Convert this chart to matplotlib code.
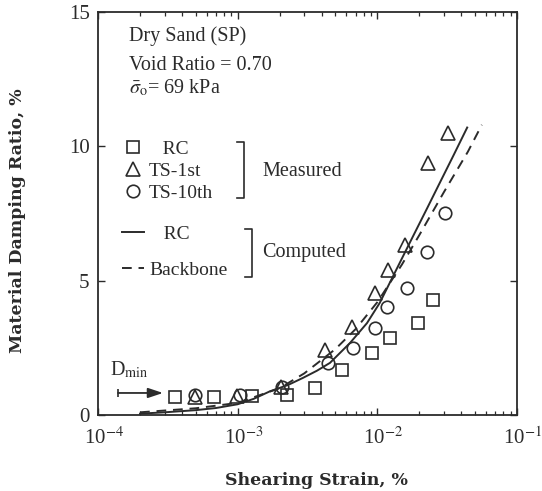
import numpy as np
import matplotlib
matplotlib.use('Agg')
import matplotlib.pyplot as plt
from matplotlib.lines import Line2D
from matplotlib.ticker import LogLocator, NullFormatter, FixedLocator
import matplotlib.transforms as mtransforms

# ---------------- data ----------------
rc_strain = [3.56e-4, 6.8e-4, 1.26e-3, 2.25e-3, 3.57e-3, 5.58e-3, 9.15e-3, 1.23e-2, 1.95e-2, 2.50e-2]
rc_damping = [0.67, 0.67, 0.71, 0.74, 1.0, 1.67, 2.31, 2.87, 3.42, 4.28]

ts1_strain = [4.94e-4, 9.9e-4, 2.05e-3, 4.22e-3, 6.58e-3, 9.6e-3, 1.19e-2, 1.58e-2, 2.30e-2, 3.20e-2]
ts1_damping = [0.67, 0.71, 1.05, 2.42, 3.27, 4.54, 5.40, 6.33, 9.38, 10.49]

ts10_strain = [4.94e-4, 1.04e-3, 2.08e-3, 4.43e-3, 6.69e-3, 9.6e-3, 1.17e-2, 1.63e-2, 2.26e-2, 3.05e-2]
ts10_damping = [0.74, 0.74, 1.04, 1.94, 2.49, 3.24, 4.02, 4.73, 6.07, 7.52]

rc_fit_strain = [2e-4, 3e-4, 5e-4, 7e-4, 1e-3, 1.3e-3, 1.7e-3, 2.3e-3, 2.93e-3, 3.7e-3, 4.58e-3,
                 6.37e-3, 8.43e-3, 1.04e-2, 1.38e-2, 1.8e-2, 2.27e-2, 2.72e-2, 3.5e-2, 4.4e-2]
rc_fit_damping = [0.05, 0.1, 0.18, 0.26, 0.4, 0.6, 0.88, 1.12, 1.38, 1.65, 1.94,
                  2.68, 3.42, 4.17, 5.45, 6.65, 7.69, 8.51, 9.65, 10.7]

bb_strain = [2e-4, 5e-4, 1e-3, 2e-3, 3e-3, 5e-3, 7e-3, 1e-2, 1.5e-2, 2e-2, 3e-2, 4.45e-2, 5.6e-2]
bb_damping = [0.1, 0.25, 0.45, 1.0, 1.55, 2.45, 3.2, 4.2, 5.6, 6.7, 8.3, 9.8, 10.8]

dmin_level = 0.82
dmin_arrow_from = 1.39e-4
dmin_arrow_to = 2.92e-4

xtick_vals = [1e-4, 1e-3, 1e-2, 1e-1]
xtick_labels = ['10$^{-4}$', '10$^{-3}$', '10$^{-2}$', '10$^{-1}$']
ytick_vals = [0, 5, 10, 15]
ytick_labels = ['0', '5', '10', '15']

header_lines = ['Dry Sand (SP)', 'Void Ratio = 0.70', r'$\bar{\sigma}_{\mathrm{o}}$= 69 kPa']
measured_labels = ['   RC', 'TS-1st', 'TS-10th']
computed_labels = ['   RC', 'Backbone']

# ---------------- style ----------------
plt.rcParams['font.family'] = ['Liberation Serif', 'DejaVu Serif']
plt.rcParams['mathtext.fontset'] = 'stix'
INK = '#2b2b2b'
W, H = 542, 491

fig = plt.figure(figsize=(W / 100, H / 100), dpi=100)
fig.patch.set_facecolor('white')

def fx(px):
    return px / W

def fy(py):
    return 1 - py / H

ax = fig.add_axes([fx(98), fy(415), fx(517) - fx(98), fy(12) - fy(415)])

ax.set_xscale('log')
ax.set_xlim(1e-4, 1e-1)
ax.set_ylim(0, 15)

ms = 9
DASH = (0, (5, 3.5))
ax.plot(rc_strain, rc_damping, ls='none', marker='s', mfc='none', mec=INK, ms=ms, mew=1.2)
ax.plot(ts1_strain, ts1_damping, ls='none', marker='^', mfc='none', mec=INK, ms=ms + 0.5, mew=1.2)
ax.plot(ts10_strain, ts10_damping, ls='none', marker='o', mfc='none', mec=INK, ms=ms, mew=1.2)
ax.plot(rc_fit_strain, rc_fit_damping, color=INK, lw=1.4)
ax.plot(bb_strain, bb_damping, color=INK, lw=1.4, ls=DASH)

# Dmin arrow
ax.annotate('', xy=(dmin_arrow_to, dmin_level), xytext=(dmin_arrow_from, dmin_level),
            arrowprops=dict(arrowstyle='-|>,head_length=0.9,head_width=0.3', color=INK, lw=1.3,
                            shrinkA=0, shrinkB=0))
ax.plot([dmin_arrow_from], [dmin_level], marker='|', color=INK, ms=6, mew=1.2)
ax.text(dmin_arrow_from * 0.88, dmin_level + 0.65, r'D$_{\mathrm{min}}$', fontsize=14.5, color=INK,
        ha='left', va='baseline')

# ticks
ax.xaxis.set_major_locator(FixedLocator(xtick_vals))
ax.set_xticklabels(xtick_labels)
ax.xaxis.set_minor_locator(LogLocator(base=10, subs=np.arange(2, 10)))
ax.xaxis.set_minor_formatter(NullFormatter())
ax.set_yticks(ytick_vals)
ax.set_yticklabels(ytick_labels)
ax.tick_params(which='major', direction='in', length=5, width=1.0, top=True, right=True,
               colors=INK, labelsize=15, pad=9)
ax.tick_params(which='minor', direction='in', length=3, width=0.9, top=True, right=True, colors=INK)
ax.tick_params(axis='y', which='major', pad=6)
off = mtransforms.ScaledTranslation(6 / 100, 0, fig.dpi_scale_trans)
for lab in ax.get_xticklabels():
    lab.set_transform(lab.get_transform() + off)
for sp in ax.spines.values():
    sp.set_color(INK)
    sp.set_linewidth(1.3)

# header text
for txt, py in zip(header_lines, [36, 65, 88]):
    fig.text(fx(129), fy(py), txt, fontsize=14.5, color=INK, ha='left', va='center')

# legends
h_meas = [Line2D([], [], ls='none', marker='s', mfc='none', mec=INK, ms=ms, mew=1.2),
          Line2D([], [], ls='none', marker='^', mfc='none', mec=INK, ms=ms + 0.5, mew=1.2),
          Line2D([], [], ls='none', marker='o', mfc='none', mec=INK, ms=ms, mew=1.2)]
leg1 = ax.legend(h_meas, measured_labels, loc='upper left', bbox_to_anchor=(fx(125), fy(140)),
                 bbox_transform=fig.transFigure, frameon=False, fontsize=14,
                 handlelength=0.8, handletextpad=0.4, labelspacing=0.23, borderpad=0,
                 borderaxespad=0)
for t in leg1.get_texts():
    t.set_color(INK)
ax.add_artist(leg1)

h_comp = [Line2D([], [], color=INK, lw=1.4),
          Line2D([], [], color=INK, lw=1.4, ls=DASH)]
leg2 = ax.legend(h_comp, computed_labels, loc='upper left', bbox_to_anchor=(fx(122), fy(225)),
                 bbox_transform=fig.transFigure, frameon=False, fontsize=14,
                 handlelength=1.15, handletextpad=0.25, labelspacing=0.95, borderpad=0,
                 borderaxespad=0)
for t in leg2.get_texts():
    t.set_color(INK)

# brackets
def bracket(x_v, y_top, y_bot, x_serif):
    fig.add_artist(Line2D([fx(x_serif), fx(x_v), fx(x_v), fx(x_serif)],
                          [fy(y_top), fy(y_top), fy(y_bot), fy(y_bot)],
                          transform=fig.transFigure, color=INK, lw=1.2))

bracket(244, 142, 198, 237)
bracket(252, 229, 277, 245)
fig.text(fx(262), fy(171), 'Measured', fontsize=14.5, color=INK, ha='left', va='center')
fig.text(fx(262), fy(253), 'Computed', fontsize=14.5, color=INK, ha='left', va='center')

# axis labels
fig.text(fx(316), fy(485), 'Shearing Strain, %', fontsize=12.5, fontweight='bold',
         family='DejaVu Serif', color=INK, ha='center', va='baseline')
fig.text(fx(18), fy(221), 'Material Damping Ratio, %', fontsize=12.5, fontweight='bold',
         family='DejaVu Serif', color=INK, ha='center', va='center', rotation=90)

fig.savefig('out.png', dpi=100, facecolor='white')
